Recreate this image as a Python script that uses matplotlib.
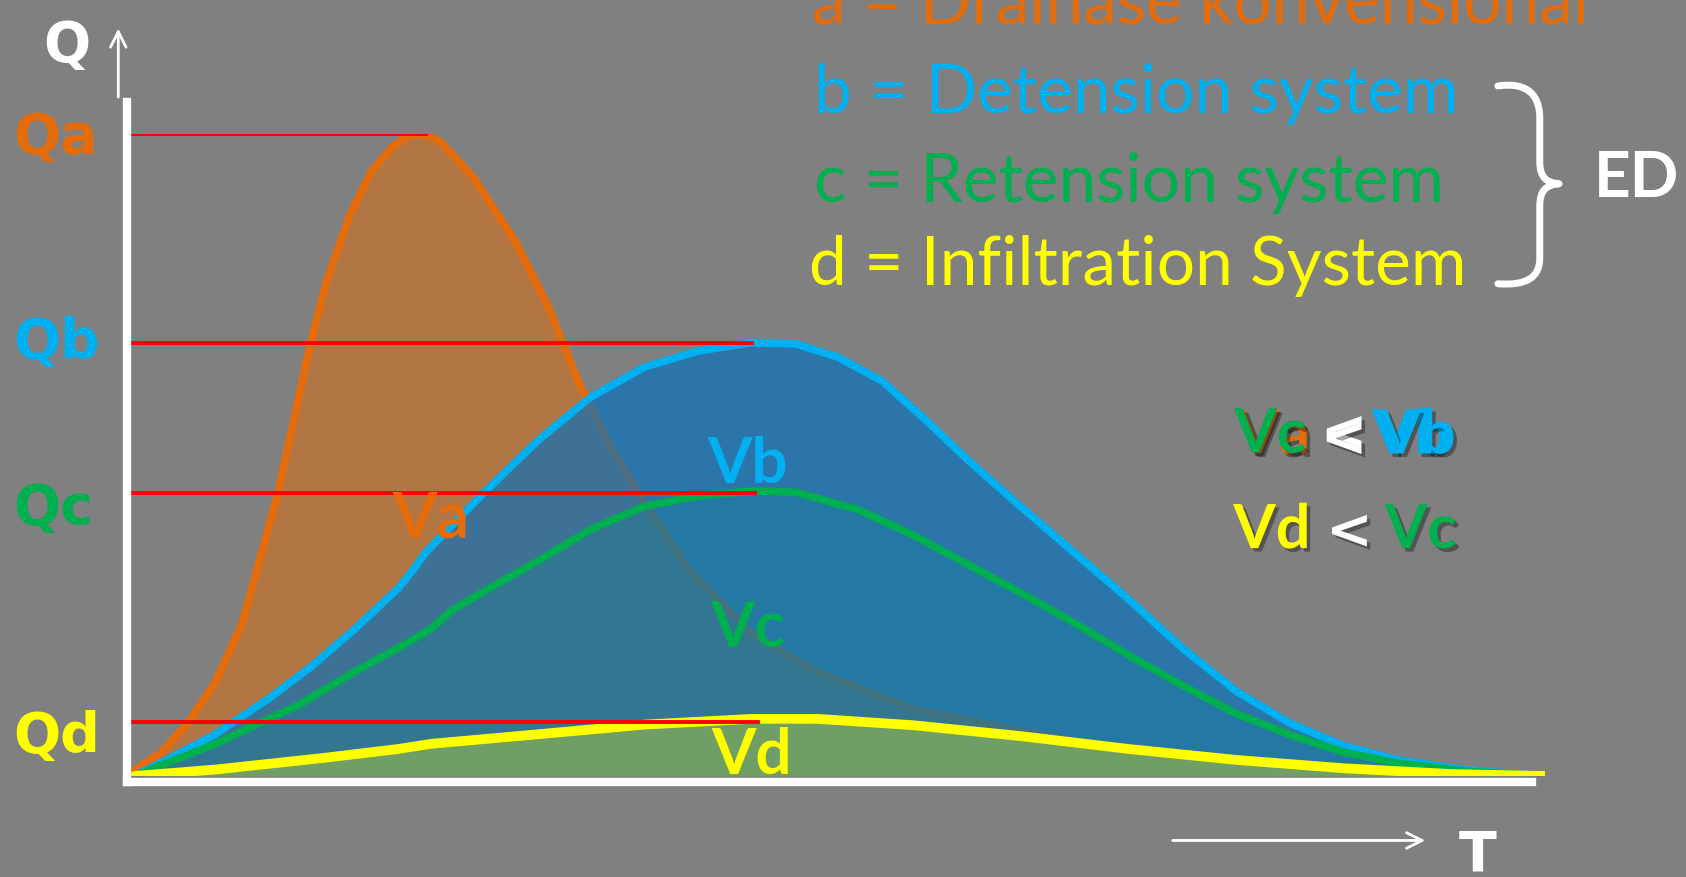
import matplotlib
matplotlib.use("Agg")
import matplotlib.pyplot as plt
import matplotlib.patheffects as pe
from matplotlib.path import Path
from matplotlib.patches import PathPatch

# hydrographs, time T (0..100) vs discharge Q (Qa peak = 100)
T_a = [0, 2.3, 4.2, 6.1, 8.0, 10.5, 12.8, 14.0, 15.6, 17.1, 18.6, 19.6, 20.5, 21.3, 22.0, 24.3,
       27.3, 29.6, 31.9, 34.2, 36.5, 39.5, 44.0, 48.6, 55.4, 66.8, 82.0, 100]
Q_a = [0.3, 3.7, 8.4, 14.6, 23.8, 43.9, 67.3, 77.4, 87.4, 94.1, 98.0, 99.5, 100, 99.6, 98.8, 93.3,
       83.2, 73.2, 60.6, 50.6, 42.2, 32.2, 22.1, 16.2, 10.4, 5.4, 1.7, 0]

T_b = [0.4, 3.0, 6.1, 9.9, 12.9, 16.0, 19.0, 20.1, 20.9, 22.0, 25.1, 28.9, 32.6, 36.4,
       40.2, 44.0, 47.1, 50.1, 53.2, 56.2, 59.2, 63.0, 66.8, 70.6, 74.4, 78.2, 82.0,
       85.8, 89.6, 94.2, 100]
Q_b = [0, 2.9, 6.5, 12.1, 17.1, 23.0, 29.2, 32.2, 34.7, 37.2, 44.2, 52.3, 59.0, 63.7,
       66.2, 67.5, 67.3, 65.2, 61.5, 55.6, 49.3, 41.9, 34.7, 27.5, 19.9, 13.2, 8.2,
       4.7, 2.5, 1.0, 0]

T_c = [0.4, 6.1, 12.1, 15.9, 19.7, 21.3, 22.8, 25.1, 28.9, 32.6, 36.4, 40.2, 44.0, 47.1,
       51.6, 55.4, 59.2, 63.0, 66.8, 70.6, 74.4, 78.2, 82.0, 85.8, 89.6, 94.2, 100]
Q_c = [0, 5.0, 11.2, 16.2, 20.8, 22.9, 25.8, 28.8, 33.5, 38.4, 42.0, 43.6, 44.4, 44.2,
       41.4, 37.5, 33.0, 28.5, 23.8, 18.8, 14.1, 9.7, 6.4, 3.7, 2.0, 0.8, 0]

T_d = [0.4, 6.1, 13.7, 19.0, 21.3, 28.9, 36.4, 44.0, 48.6, 55.4, 63.0, 70.6, 78.2, 85.8, 93.4, 100]
Q_d = [0, 1.0, 2.8, 4.2, 5.0, 6.5, 8.0, 8.9, 8.9, 7.9, 6.2, 4.2, 2.5, 1.2, 0.3, 0]

q_names = ["Qa", "Qb", "Qc", "Qd"]
q_levels = [100, 67.5, 44.1, 8.4]
q_line_end = [21.0, 44.0, 44.2, 44.4]

vol_names = ["Va", "Vb", "Vc", "Vd"]
vol_pos = [(21.3, 37.2), (43.7, 45.6), (43.7, 20.1), (44.0, 0.3)]

legend_labels = ["a = Drainase konvensional", "b = Detension system",
                 "c = Retension system", "d = Infiltration System"]

ORANGE, BLUE, GREEN, YELLOW = "#E46C0A", "#00B0F0", "#00B050", "#FFFF00"
COLS = [ORANGE, BLUE, GREEN, YELLOW]
BG = "#808080"

fig = plt.figure(figsize=(16.86, 8.77), dpi=100, facecolor=BG)
ax = fig.add_axes([0.0765, 0.1152, 0.8399, 0.732])
ax.set_xlim(0, 100); ax.set_ylim(0, 100); ax.axis("off")

line_kw = dict(solid_capstyle="round", solid_joinstyle="round")
# a: conventional drainage
ax.fill_between(T_a, Q_a, color=ORANGE, alpha=0.5, lw=0, zorder=1)
ax.plot(T_a, Q_a, color=ORANGE, lw=5.5, zorder=2, **line_kw)
# b: detention
ax.fill_between(T_b, Q_b, color="#0070C0", alpha=0.66, lw=0, zorder=3)
ax.plot(T_b, Q_b, color=BLUE, lw=5.5, zorder=4, **line_kw)
# c: retention
ax.fill_between(T_c, Q_c, color="#009682", alpha=0.15, lw=0, zorder=5)
ax.plot(T_c, Q_c, color=GREEN, lw=5.5, zorder=6, **line_kw)
# d: infiltration
ax.fill_between(T_d, Q_d, color=YELLOW, alpha=0.3, lw=0, zorder=7)
ax.plot(T_d, Q_d, color=YELLOW, lw=7, zorder=8, **line_kw)

# peak levels
for q, end in zip(q_levels, q_line_end):
    ax.plot([0, end], [q, q], color="red", lw=2.8, zorder=9)

# axes
ax.plot([-0.15, -0.15], [-0.9, 105], color="white", lw=6, zorder=10, clip_on=False)
ax.plot([-0.15, 99.1], [-0.9, -0.9], color="white", lw=6, zorder=10, clip_on=False)

for name, (t, q), c in zip(vol_names, vol_pos, COLS):
    ax.text(t, q, name, color=c, fontsize=46, fontweight="bold", family="Lato",
            ha="center", va="baseline", zorder=11)

# overlay in pixel-ish coords for labels & decoration
ov = fig.add_axes([0, 0, 1, 1])
ov.set_xlim(0, 1568); ov.set_ylim(816, 0); ov.axis("off"); ov.patch.set_visible(False)

qfont = dict(fontsize=40, fontweight="bold", family="DejaVu Sans", va="baseline")
ov.text(62, 57, "Q", color="white", ha="center", **qfont)
for name, y, c in zip(q_names, [142, 333, 488, 700], COLS):
    ov.text(12, y, name, color=c, ha="left", **qfont)
ov.text(1374, 810, "T", color="white", ha="center", **qfont)

arw = dict(arrowstyle="->", color="white", lw=2, mutation_scale=28)
ov.annotate("", xy=(110, 24), xytext=(110, 93), arrowprops=arw)
ov.annotate("", xy=(1328, 782), xytext=(1088, 782), arrowprops=arw)

for lab, c, x, y in zip(legend_labels, COLS, [755, 757, 757, 752], [22, 105, 188, 265]):
    ov.text(x, y, lab, color=c, fontsize=48.7, family="Lato", ha="left", va="baseline")

# brace + ED
verts = [(1393, 80), (1420, 76), (1432, 88), (1432, 110),
         (1432, 150),
         (1432, 165), (1438, 170), (1450, 171),
         (1438, 172), (1432, 177), (1432, 192),
         (1432, 240),
         (1432, 258), (1420, 266), (1393, 264)]
codes = [Path.MOVETO, Path.CURVE4, Path.CURVE4, Path.CURVE4, Path.LINETO,
         Path.CURVE4, Path.CURVE4, Path.CURVE4, Path.CURVE4, Path.CURVE4, Path.CURVE4,
         Path.LINETO, Path.CURVE4, Path.CURVE4, Path.CURVE4]
ov.add_patch(PathPatch(Path(verts, codes), fc="none", ec="white", lw=5,
                       capstyle="round", joinstyle="round"))
ov.text(1482, 166, "ED", color="white", fontsize=46, fontweight="bold", family="Lato",
        ha="left", va="center")

# comparisons
shadow = [pe.SimplePatchShadow(offset=(2.5, -2.5), shadow_rgbFace="black", alpha=0.35), pe.Normal()]
cfont = dict(fontsize=44, fontweight="bold", family="Lato", va="baseline", path_effects=shadow)
lt = dict(fontsize=40, fontweight="bold", family="DejaVu Sans", va="baseline",
          path_effects=shadow, color="white", ha="center")
ov.text(1150, 422, "Va", color=ORANGE, ha="left", **cfont)
ov.text(1148, 421, "Vc", color=GREEN, ha="left", **cfont)
ov.text(1250, 418, "<", **lt)
ov.text(1250, 424, "<", **lt)
ov.text(1276, 422, "Vb", color=BLUE, ha="left", **cfont)
ov.text(1282, 422, "Vb", color=BLUE, ha="left", **cfont)
ov.text(1147, 510, "Vd", color=YELLOW, ha="left", **cfont)
ov.text(1255, 510, "<", **lt)
ov.text(1288, 510, "Vc", color=GREEN, ha="left", **cfont)

fig.savefig("out.png", dpi=100, facecolor=BG)
